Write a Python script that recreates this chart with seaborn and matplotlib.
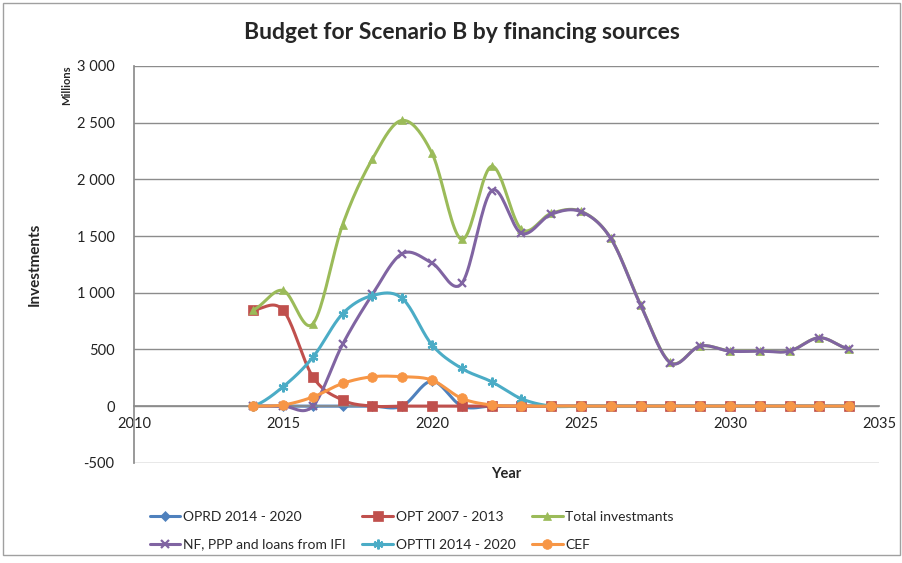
import numpy as np
import pandas as pd
import matplotlib
matplotlib.use("Agg")
import matplotlib.pyplot as plt
from matplotlib.lines import Line2D
from matplotlib.patches import Rectangle
from matplotlib.ticker import FuncFormatter
import seaborn as sns

# Data (millions)
years = list(range(2014, 2035))
oprd = [0, 0, 0, 0, 0, 0, 220, 0, 0, 0, 0, 0, 0, 0, 0, 0, 0, 0, 0, 0, 0]
opt = [850, 847, 259, 53, 0, 0, 0, 0, 0, 0, 0, 0, 0, 0, 0, 0, 0, 0, 0, 0, 0]
total = [850, 1020, 725, 1600, 2180, 2520, 2230, 1470, 2115, 1560, 1700, 1718,
         1480, 895, 385, 530, 487, 487, 487, 603, 503]
nf_ppp = [0, 0, 0, 545, 985, 1345, 1262, 1082, 1900, 1524, 1692, 1715,
          1479, 891, 382, 530, 485, 485, 485, 603, 503]
optti = [0, 170, 430, 815, 975, 950, 540, 332, 215, 65, 0, 0, 0, 0, 0, 0,
         0, 0, 0, 0, 0]
cef = [0, 10, 80, 200, 259, 259, 229, 68, 10, 0, 0, 0, 0, 0, 0, 0, 0, 0, 0, 0, 0]

series_names = ["OPRD 2014 - 2020", "OPT 2007 - 2013", "Total investmants",
                "NF, PPP and loans from IFI", "OPTTI 2014 - 2020", "CEF"]
series_values = [oprd, opt, total, nf_ppp, optti, cef]
colors = ["#4F81BD", "#C0504D", "#9BBB59", "#8064A2", "#4BACC6", "#F79646"]
markers = ["D", "s", "^", "x", (6, 2, 0), "o"]
msizes = [5, 7, 6, 6, 7, 7]


def smooth(x, y, n=20):
    # Excel-style smoothed line (Bezier with 1/6 control points)
    x = np.asarray(x, float)
    y = np.asarray(y, float)
    xs, ys = [], []
    for i in range(len(x) - 1):
        y0 = y[i - 1] if i > 0 else y[i]
        y3 = y[i + 2] if i + 2 < len(y) else y[i + 1]
        y1, y2 = y[i], y[i + 1]
        c1 = y1 + (y2 - y0) / 6
        c2 = y2 - (y3 - y1) / 6
        t = np.linspace(0, 1, n, endpoint=False)
        b = ((1 - t) ** 3 * y1 + 3 * (1 - t) ** 2 * t * c1
             + 3 * (1 - t) * t ** 2 * c2 + t ** 3 * y2)
        xs.extend(x[i] + t * (x[i + 1] - x[i]))
        ys.extend(b)
    xs.append(x[-1])
    ys.append(y[-1])
    return np.array(xs), np.array(ys)


sns.set_theme(style="white")
plt.rcParams["font.family"] = ["Lato", "DejaVu Sans"]

fig = plt.figure(figsize=(9.03, 5.63), dpi=100)
ax = fig.add_axes([0.1484, 0.178, 0.825, 0.7048])

for k, (name, vals) in enumerate(zip(series_names, series_values)):
    sx, sy = smooth(years, vals)
    df = pd.DataFrame({"Year": sx, "Value": sy})
    sns.lineplot(data=df, x="Year", y="Value", ax=ax, color=colors[k],
                 linewidth=2.2, sort=False, estimator=None, zorder=2 + k)
    mk = markers[k]
    mew = 1.6 if mk in ("x", (6, 2, 0)) else 0.5
    ax.plot(years, vals, linestyle="none", marker=mk, markersize=msizes[k],
            color=colors[k], markeredgecolor=colors[k], markeredgewidth=mew,
            zorder=2 + k)

ax.set_xlim(2010, 2035)
ax.set_ylim(-500, 3000)
ax.set_xticks(range(2010, 2036, 5))
ax.set_yticks(range(-500, 3001, 500))
ax.yaxis.set_major_formatter(FuncFormatter(lambda v, p: f"{int(v):,}".replace(",", " ")))
ax.grid(axis="y", color="#8C8C8C", linewidth=1)
ax.set_axisbelow(True)

for s in ["top", "right"]:
    ax.spines[s].set_visible(False)
ax.spines["bottom"].set_position(("data", 0))
ax.spines["bottom"].set_color("#8C8C8C")
ax.spines["left"].set_color("#8C8C8C")
ax.tick_params(axis="y", labelsize=10.5, colors="#222222", length=0, pad=14)
ax.tick_params(axis="x", labelsize=10.5, colors="#222222", length=4,
               color="#8C8C8C", direction="out", pad=4)
ax.set_xlabel("")
ax.set_ylabel("")

fig.text(0.512, 0.943, "Budget for Scenario B by financing sources",
         ha="center", va="center", fontsize=16.5, fontweight="bold")
fig.text(0.039, 0.531, "Investments", rotation=90, ha="center", va="center",
         fontsize=11, fontweight="bold")
fig.text(0.074, 0.849, "Millions", rotation=90, ha="center", va="center",
         fontsize=8, fontweight="bold")
fig.text(0.561, 0.158, "Year", ha="center", va="center",
         fontsize=10.5, fontweight="bold")

handles = []
for k, name in enumerate(series_names):
    mk = markers[k]
    mew = 1.6 if mk in ("x", (6, 2, 0)) else 0.5
    handles.append(Line2D([0], [0], color=colors[k], linewidth=2.2, marker=mk,
                          markersize=msizes[k], markeredgecolor=colors[k],
                          markeredgewidth=mew))
order = [0, 3, 1, 4, 2, 5]
fig.legend([handles[i] for i in order], [series_names[i] for i in order],
           ncol=3, loc="center left", bbox_to_anchor=(0.152, 0.057),
           frameon=False, fontsize=10, handlelength=2.2, handletextpad=0.2,
           columnspacing=1.2, labelspacing=1.1)

fig.patches.append(Rectangle((0.003, 0.015), 0.994, 0.98, transform=fig.transFigure,
                             fill=False, edgecolor="#A0A0A0", linewidth=1))

fig.savefig("out.png", dpi=100)
